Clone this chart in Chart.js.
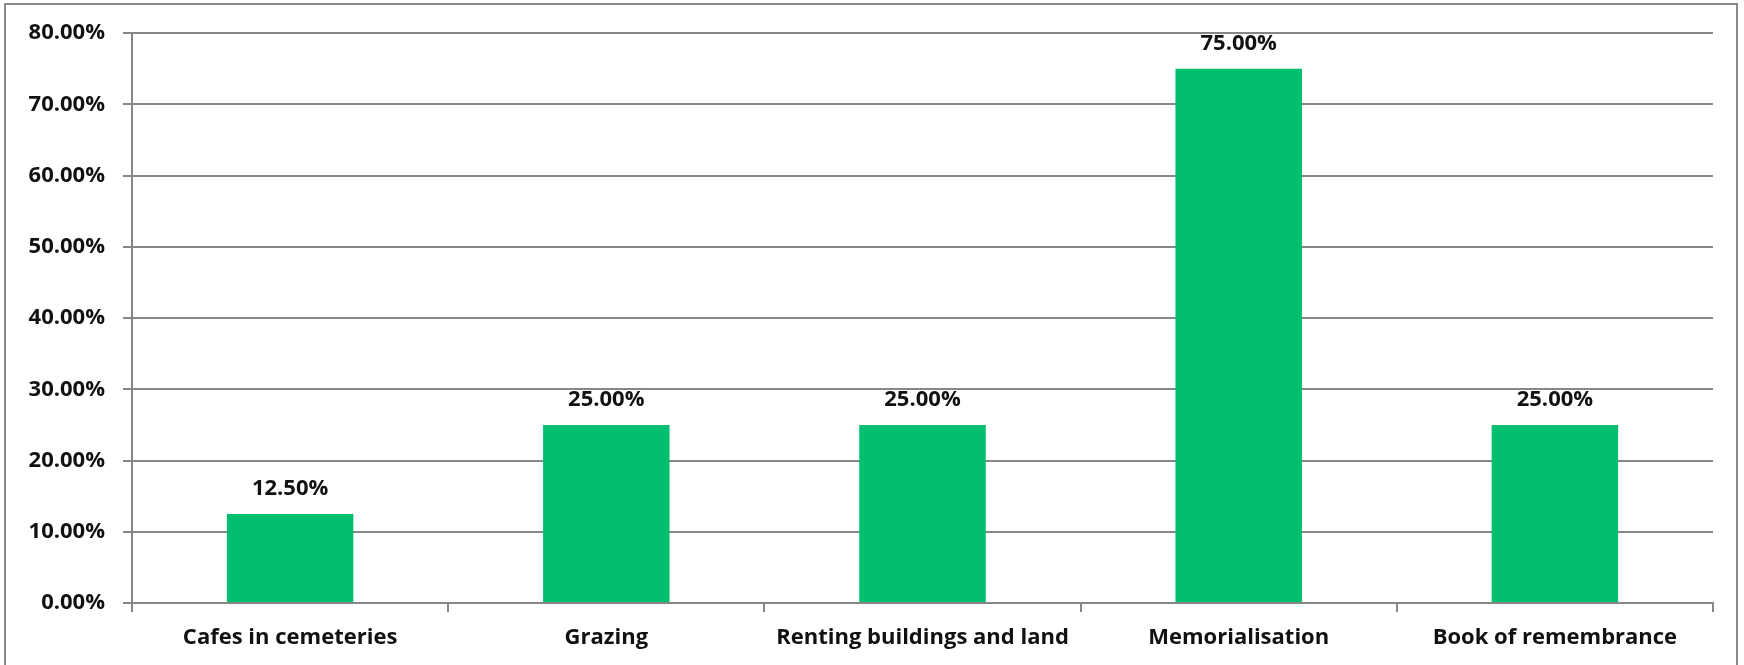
<!DOCTYPE html>
<html lang="en"><head><meta charset="UTF-8">
<title>Income ideas</title>
<script src="https://cdn.jsdelivr.net/npm/chart.js"></script>
<style>
    body { margin: 0; background: #fff; width: 1744px; height: 665px; overflow: hidden; }
    .frame {
        position: absolute; left: 4px; top: 3px; width: 1734px; height: 700px;
        border: 2px solid #8a8a8a; box-sizing: border-box;
    }
    .wrap { position: absolute; left: 0; top: 0; width: 1744px; height: 665px; }
</style>
</head>
<body>
<div class="frame"></div>
<div class="wrap"><canvas id="c"></canvas></div>
<script>
    const categories = ["Cafes in cemeteries", "Grazing", "Renting buildings and land", "Memorialisation", "Book of remembrance"];
    const values = [12.5, 25, 25, 75, 25];
    const yTicks = [0, 10, 20, 30, 40, 50, 60, 70, 80];

    const labelFont = { family: "'Open Sans', Lato, sans-serif", size: 22, weight: "bold" };

    // draws the value above each bar
    const valueLabels = {
        id: "valueLabels",
        afterDatasetsDraw(chart) {
            const ctx = chart.ctx;
            const meta = chart.getDatasetMeta(0);
            ctx.save();
            ctx.font = "bold 22px 'Open Sans', Lato, sans-serif";
            ctx.fillStyle = "#111";
            ctx.textAlign = "center";
            ctx.textBaseline = "alphabetic";
            meta.data.forEach((bar, i) => {
                ctx.fillText(values[i].toFixed(2) + "%", bar.x, bar.y - 19);
            });
            ctx.restore();
        }
    };

    new Chart(document.getElementById("c"), {
        type: "bar",
        data: {
            labels: categories,
            datasets: [{
                data: values,
                backgroundColor: "#02bf6f",
                barPercentage: 0.4,
                categoryPercentage: 1.0
            }]
        },
        options: {
            responsive: true,
            maintainAspectRatio: false,
            animation: false,
            layout: { padding: { left: 0, right: 31, top: 33, bottom: 0 } },
            plugins: { legend: { display: false }, tooltip: { enabled: false } },
            scales: {
                x: {
                    offset: true,
                    grid: { drawOnChartArea: false, drawTicks: true, tickLength: 9, color: "#878787", lineWidth: 2 },
                    border: { color: "#878787", width: 2 },
                    ticks: { color: "#111", font: labelFont, padding: 13, maxRotation: 0 },
                    afterFit(scale) { scale.height = 62; }
                },
                y: {
                    min: 0, max: 80,
                    afterBuildTicks(scale) { scale.ticks = yTicks.map(v => ({ value: v })); },
                    grid: { color: "#878787", lineWidth: 2, tickLength: 9 },
                    border: { color: "#878787", width: 2 },
                    ticks: { color: "#111", font: labelFont, padding: 18, callback: v => v.toFixed(2) + "%" },
                    afterFit(scale) { scale.width = 132; }
                }
            }
        },
        plugins: [valueLabels]
    });
</script>
</body>
</html>
